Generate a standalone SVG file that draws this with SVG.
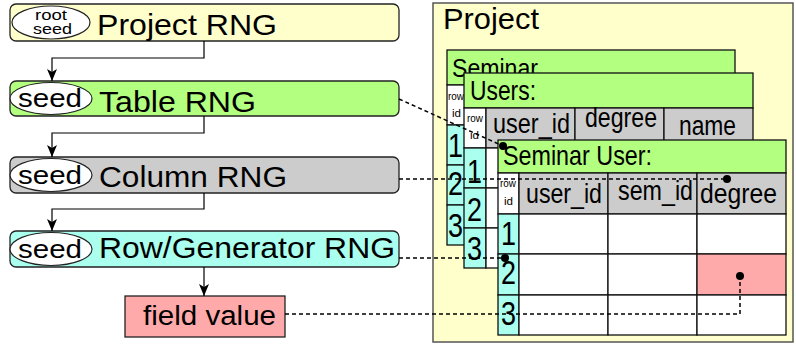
<svg xmlns="http://www.w3.org/2000/svg" width="796" height="345" viewBox="0 0 796 345">
  <style>
    text { font-family: "Liberation Sans", Arial, sans-serif; fill: #000; }
    .rng { stroke: #222; stroke-width: 1.3; }
    .seed { fill: #fff; stroke: #222; stroke-width: 1.2; }
    .lbl { font-size: 29px; }
    .seedt { font-size: 25px; }
    .link { fill: none; stroke: #000; stroke-width: 1.2; }
    .dash { fill: none; stroke: #000; stroke-width: 1.5; stroke-dasharray: 4 3; }
    .dot { fill: #000; }
    .cell { stroke: #111; stroke-width: 1.3; }
    .green { fill: #B3FF80; }
    .grey { fill: #CCCCCC; }
    .cyan { fill: #AAFFEE; }
    .white { fill: #FFFFFF; }
    .pink { fill: #FFAAAA; }
    .title { font-size: 28px; }
    .hdr { font-size: 27px; }
    .num { font-size: 34px; }
    .rid { font-size: 11px; }
  </style>
  <defs>
    <marker id="arrow" viewBox="0 0 12 10" refX="12" refY="5" markerWidth="12" markerHeight="10" markerUnits="userSpaceOnUse" orient="auto">
      <path d="M0,0 L12,5 L0,10 L3,5 z" fill="#000"/>
    </marker>
  </defs>

  <!-- RNG chain -->
  <g id="project-rng">
    <rect class="rng" x="10" y="4" width="389" height="37" rx="6" fill="#FFFFCC"/>
    <ellipse class="seed" cx="51" cy="22.5" rx="39" ry="16.5"/>
    <text x="35" y="20" font-size="14" textLength="32" lengthAdjust="spacingAndGlyphs">root</text>
    <text x="33" y="34" font-size="15" textLength="39" lengthAdjust="spacingAndGlyphs">seed</text>
    <text class="lbl" x="97" y="35" textLength="180" lengthAdjust="spacingAndGlyphs">Project RNG</text>
  </g>
  <g id="table-rng">
    <rect class="rng green" x="10" y="81" width="389" height="35" rx="6"/>
    <ellipse class="seed" cx="51" cy="98.5" rx="41" ry="16"/>
    <text class="seedt" x="18" y="107" textLength="64" lengthAdjust="spacingAndGlyphs">seed</text>
    <text class="lbl" x="99" y="112" textLength="157" lengthAdjust="spacingAndGlyphs">Table RNG</text>
  </g>
  <g id="column-rng">
    <rect class="rng grey" x="10" y="157" width="389" height="36" rx="6"/>
    <ellipse class="seed" cx="51" cy="175" rx="41" ry="16.5"/>
    <text class="seedt" x="18" y="184" textLength="64" lengthAdjust="spacingAndGlyphs">seed</text>
    <text class="lbl" x="99" y="187" textLength="188" lengthAdjust="spacingAndGlyphs">Column RNG</text>
  </g>
  <g id="row-rng">
    <rect class="rng cyan" x="10" y="231" width="389" height="36" rx="6"/>
    <ellipse class="seed" cx="51" cy="249" rx="41" ry="16.5"/>
    <text class="seedt" x="18" y="258" textLength="64" lengthAdjust="spacingAndGlyphs">seed</text>
    <text class="lbl" x="99" y="258" textLength="296" lengthAdjust="spacingAndGlyphs">Row/Generator RNG</text>
  </g>
  <g id="field-value">
    <rect x="125" y="296" width="160" height="41" fill="#FFAAAA" stroke="#222" stroke-width="1.3"/>
    <text x="143" y="325" font-size="27" textLength="133" lengthAdjust="spacingAndGlyphs">field value</text>
  </g>

  <!-- project contents -->
  <g id="project">
    <rect x="433" y="3" width="360" height="339" fill="#FFFFCC" stroke="#555" stroke-width="1.5"/>
    <text x="443" y="29" font-size="29" textLength="96" lengthAdjust="spacingAndGlyphs">Project</text>
  </g>

  <g id="seminar">
    <rect class="cell green" x="447" y="50" width="288" height="35"/>
    <text x="452" y="77" font-size="25" textLength="86" lengthAdjust="spacingAndGlyphs">Seminar</text>
    <rect class="cell white" x="447" y="85" width="18" height="40"/>
    <text class="rid" x="448" y="100" textLength="16" lengthAdjust="spacingAndGlyphs">row</text>
    <text class="rid" x="452" y="117" textLength="9" lengthAdjust="spacingAndGlyphs">id</text>
    <rect class="cell cyan" x="447" y="125" width="18" height="40"/>
    <rect class="cell cyan" x="447" y="165" width="18" height="40"/>
    <rect class="cell cyan" x="447" y="205" width="18" height="40"/>
    <text class="num" x="448" y="157" textLength="15" lengthAdjust="spacingAndGlyphs">1</text>
    <text class="num" x="448" y="195" textLength="15" lengthAdjust="spacingAndGlyphs">2</text>
    <text class="num" x="448" y="237" textLength="15" lengthAdjust="spacingAndGlyphs">3</text>
  </g>

  <g id="users">
    <rect class="cell green" x="464" y="73" width="289" height="35"/>
    <text class="title" x="470" y="100" textLength="66" lengthAdjust="spacingAndGlyphs">Users:</text>
    <rect class="cell white" x="464" y="108" width="22" height="40"/>
    <text class="rid" x="467" y="122" textLength="16" lengthAdjust="spacingAndGlyphs">row</text>
    <text class="rid" x="470" y="139" textLength="9" lengthAdjust="spacingAndGlyphs">id</text>
    <rect class="cell grey" x="486" y="108" width="89" height="40"/>
    <rect class="cell grey" x="575" y="108" width="89" height="40"/>
    <rect class="cell grey" x="664" y="108" width="89" height="40"/>
    <text class="hdr" x="493" y="133" textLength="77" lengthAdjust="spacingAndGlyphs">user_id</text>
    <text class="hdr" x="585" y="127" textLength="72" lengthAdjust="spacingAndGlyphs">degree</text>
    <text class="hdr" x="679" y="135" textLength="57" lengthAdjust="spacingAndGlyphs">name</text>
    <rect class="cell cyan" x="464" y="148" width="22" height="40"/>
    <rect class="cell cyan" x="464" y="188" width="22" height="40"/>
    <rect class="cell cyan" x="464" y="228" width="22" height="40"/>
    <rect class="cell white" x="486" y="148" width="267" height="40"/>
    <rect class="cell white" x="486" y="188" width="267" height="40"/>
    <rect class="cell white" x="486" y="228" width="267" height="40"/>
    <text class="num" x="467" y="183" textLength="15" lengthAdjust="spacingAndGlyphs">1</text>
    <text class="num" x="467" y="221" textLength="15" lengthAdjust="spacingAndGlyphs">2</text>
    <text class="num" x="467" y="260" textLength="15" lengthAdjust="spacingAndGlyphs">3</text>
  </g>

  <g id="seminar-user">
    <rect class="cell green" x="498" y="140" width="288" height="33"/>
    <text class="title" x="503" y="165" textLength="149" lengthAdjust="spacingAndGlyphs">Seminar User:</text>
    <rect class="cell white" x="498" y="173" width="21" height="41"/>
    <text class="rid" x="500" y="187" textLength="16" lengthAdjust="spacingAndGlyphs">row</text>
    <text class="rid" x="504" y="205" textLength="9" lengthAdjust="spacingAndGlyphs">id</text>
    <rect class="cell grey" x="519" y="173" width="89" height="41"/>
    <rect class="cell grey" x="608" y="173" width="89" height="41"/>
    <rect class="cell grey" x="697" y="173" width="89" height="41"/>
    <text class="hdr" x="526" y="203" textLength="76" lengthAdjust="spacingAndGlyphs">user_id</text>
    <text class="hdr" x="618" y="200" textLength="75" lengthAdjust="spacingAndGlyphs">sem_id</text>
    <text class="hdr" x="700" y="203" textLength="77" lengthAdjust="spacingAndGlyphs">degree</text>
    <rect class="cell cyan" x="498" y="214" width="21" height="40"/>
    <rect class="cell cyan" x="498" y="254" width="21" height="41"/>
    <rect class="cell cyan" x="498" y="295" width="21" height="40"/>
    <rect class="cell white" x="519" y="214" width="89" height="40"/>
    <rect class="cell white" x="608" y="214" width="89" height="40"/>
    <rect class="cell white" x="697" y="214" width="89" height="40"/>
    <rect class="cell white" x="519" y="254" width="89" height="41"/>
    <rect class="cell white" x="608" y="254" width="89" height="41"/>
    <rect class="cell pink" x="697" y="254" width="89" height="41"/>
    <rect class="cell white" x="519" y="295" width="89" height="40"/>
    <rect class="cell white" x="608" y="295" width="89" height="40"/>
    <rect class="cell white" x="697" y="295" width="89" height="40"/>
    <text class="num" x="501" y="245" textLength="15" lengthAdjust="spacingAndGlyphs">1</text>
    <text class="num" x="501" y="284" textLength="15" lengthAdjust="spacingAndGlyphs">2</text>
    <text class="num" x="501" y="325" textLength="15" lengthAdjust="spacingAndGlyphs">3</text>
  </g>

  <!-- connectors -->
  <g id="connectors">
    <path class="link" d="M204,41 V58 H52 V81" marker-end="url(#arrow)"/>
    <path class="link" d="M204,116 V133 H52 V157" marker-end="url(#arrow)"/>
    <path class="link" d="M204,193 V209 H52 V231" marker-end="url(#arrow)"/>
    <path class="link" d="M204,267 V296" marker-end="url(#arrow)"/>

    <path class="dash" d="M399,99 L503,146"/>
    <circle class="dot" cx="503" cy="146" r="4"/>
    <path class="dash" d="M399,179 H727"/>
    <circle class="dot" cx="727" cy="179" r="4"/>
    <path class="dash" d="M399,258 H505"/>
    <circle class="dot" cx="505" cy="258" r="4"/>
    <path class="dash" d="M285,314 H740 V276"/>
    <circle class="dot" cx="740" cy="276" r="4"/>
  </g>
</svg>
